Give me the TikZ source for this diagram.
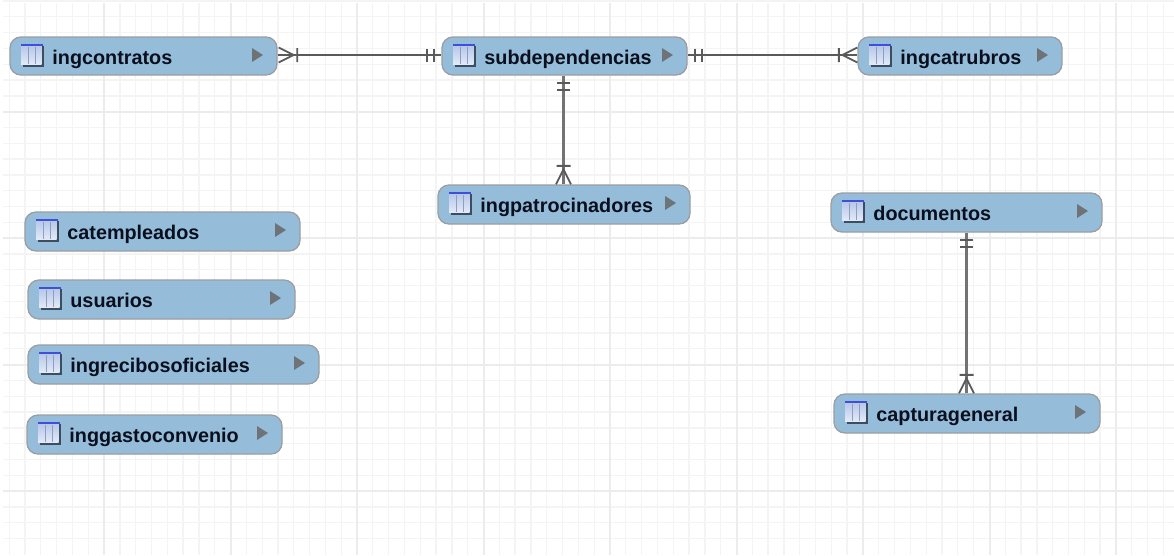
\documentclass[tikz,border=0pt]{standalone}
\usepackage{fontspec}
\setmainfont{Liberation Sans}
\usetikzlibrary{calc}
\definecolor{boxfill}{HTML}{95BDD9}
\definecolor{boxline}{HTML}{9A9DA1}
\definecolor{gridminor}{HTML}{F4F4F4}
\definecolor{gridmajor}{HTML}{ECECEC}
\definecolor{linkline}{HTML}{5A5A5A}
\definecolor{arrowgrey}{HTML}{6E7378}
\definecolor{iconblue}{HTML}{3F4FD8}
\definecolor{iconlight}{HTML}{E4EAF8}
\definecolor{iconmid}{HTML}{B4C6EA}
\definecolor{iconshadow}{HTML}{3D4D60}
\definecolor{textdark}{HTML}{0A0F1E}
\tikzset{
  tablebox/.style={draw=boxline,line width=1.3pt,fill=boxfill,rounded corners=11pt,inner sep=0pt},
  tablelabel/.style={anchor=base west,inner sep=0pt,text=textdark,font=\fontsize{19.8}{22}\selectfont\bfseries},
  linkstyle/.style={draw=linkline,line width=2.2pt},
  downlink/.style={draw=linkline!85!white,line width=2.2pt},
  markstyle/.style={draw=linkline,line width=1.8pt},
}
% #1 node name, #2 x1, #3 y1, #4 x2, #5 y2, #6 text
\newcommand\tablenode[6]{%
  \node[tablebox,minimum width={(#4-#2)*1pt},minimum height={(#5-#3)*1pt}] (#1) at ({(#2+#4)/2},{(#3+#5)/2}) {};
  \begin{scope}[shift={(#2,#3)}]
    \fill[iconshadow] (13,9) rectangle (33.5,29.5);
    \shade[top color=iconmid,bottom color=iconlight] (11,8) rectangle (31.5,27.5);
    \fill[iconblue] (11,7) rectangle (32.5,9);
    \draw[iconmid!80!black,line width=.7pt] (18,10) -- (18,27) (25,10) -- (25,27);
  \end{scope}
  \fill[arrowgrey] (#4-25,#3+11) -- (#4-14,#3+18) -- (#4-25,#3+25) -- cycle;
  \node[tablelabel] (#1-label) at (#2+42.2,#3+27) {#6};
}
% marks are drawn in a local frame whose x axis leaves the box
\newcommand\crowfoot[2]{%
  \begin{scope}[shift={(#1)},rotate=#2]
    \draw[markstyle] (0,-7.5) -- (15,0) -- (0,7.5) (18.5,-7) -- (18.5,7);
  \end{scope}}
\newcommand\onemark[2]{%
  \begin{scope}[shift={(#1)},rotate=#2]
    \draw[markstyle] (7.5,-6.5) -- (7.5,6.5) (14.5,-6.5) -- (14.5,6.5);
  \end{scope}}
\begin{document}
\begin{tikzpicture}[x=1pt,y=-1pt]
\useasboundingbox (0,0) rectangle (1174,555);
\fill[white] (0,0) rectangle (1174,555);
% grid
\foreach \k in {0,...,73} {\draw[gridminor,line width=1.3pt] ({9.2+15.81*\k},3) -- ({9.2+15.81*\k},555);}
\foreach \k in {0,...,34} {\draw[gridminor,line width=1.3pt] (3,{1+15.81*\k}) -- (1174,{1+15.81*\k});}
\foreach \k in {0,...,8} {\draw[gridmajor,line width=2pt] ({104+126.5*\k},3) -- ({104+126.5*\k},555);}
\foreach \k in {0,...,3} {\draw[gridmajor,line width=2pt] (3,{112+126.4*\k}) -- (1174,{112+126.4*\k});}
\tablenode{ingcontratos}{10}{37}{277}{75}{ingcontratos}
\tablenode{subdependencias}{442}{37}{687}{75}{subdependencias}
\tablenode{ingcatrubros}{858}{37}{1062}{75}{ingcatrubros}
\tablenode{ingpatrocinadores}{438}{185}{690}{224}{ingpatrocinadores}
\tablenode{documentos}{831}{193}{1102}{232}{documentos}
\tablenode{capturageneral}{834}{394}{1100}{433}{capturageneral}
\tablenode{catempleados}{25}{212}{300}{251}{catempleados}
\tablenode{usuarios}{28}{280}{295}{319}{usuarios}
\tablenode{ingrecibosoficiales}{28}{345}{319}{384}{ingrecibosoficiales}
\tablenode{inggastoconvenio}{27}{415}{282}{454}{inggastoconvenio}
\draw[linkstyle] ([yshift=1pt]ingcontratos.east) -- ([yshift=1pt]subdependencias.west);
\draw[linkstyle] ([yshift=1pt]subdependencias.east) -- ([yshift=1pt]ingcatrubros.west);
\draw[downlink] ([xshift=-1pt]subdependencias.south) -- ([xshift=-.5pt]ingpatrocinadores.north);
\draw[downlink] (documentos.south) -- (capturageneral.north -| documentos.south);
\crowfoot{$(ingcontratos.east)+(1,-1)$}{0}
\onemark{$(subdependencias.west)+(0,-1)$}{180}
\onemark{$(subdependencias.east)+(0,-1)$}{0}
\crowfoot{$(ingcatrubros.west)+(0,-1)$}{180}
\onemark{$(subdependencias.south)+(-1,0)$}{-90}
\crowfoot{$(ingpatrocinadores.north)+(-.5,0)$}{90}
\onemark{documentos.south}{-90}
\crowfoot{$(capturageneral.north -| documentos.south)$}{90}
\end{tikzpicture}
\end{document}
